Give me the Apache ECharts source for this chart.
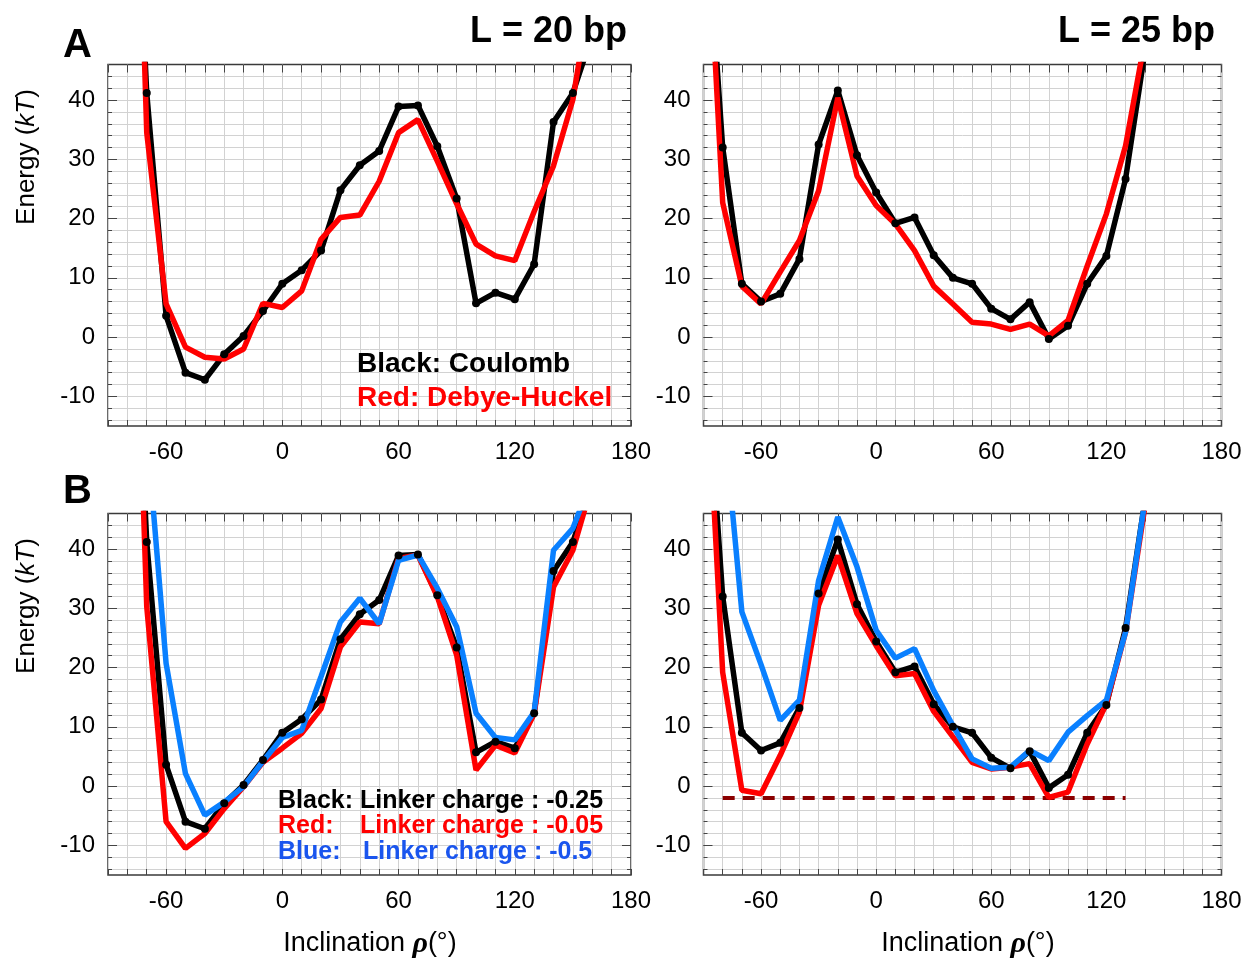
<!DOCTYPE html>
<html>
<head>
<meta charset="utf-8">
<script src="https://cdn.jsdelivr.net/npm/echarts@6/dist/echarts.min.js"></script>
<style>
  html, body { margin: 0; background: #fff; }
  #chart { width: 1246px; height: 960px; }
</style>
</head>
<body>
<div id="chart"></div>
<script>
// inclination angles (deg), left column L = 20 bp, right column L = 25 bp
var anglesL = [-80, -70, -60, -50, -40, -30, -20, -10, 0, 10, 20, 30, 40, 50, 60, 70, 80, 90, 100, 110, 120, 130, 140, 150, 160];
var anglesR = [-90, -80, -70, -60, -50, -40, -30, -20, -10, 0, 10, 20, 30, 40, 50, 60, 70, 80, 90, 100, 110, 120, 130, 140];

// L = 20 bp
var coulombL = [110, 41.2, 3.6, -6.0, -7.2, -2.9, 0.2, 4.4, 9.0, 11.3, 14.6, 24.8, 29.0, 31.4, 38.9, 39.1, 32.2, 23.4, 5.7, 7.5, 6.4, 12.3, 36.3, 41.2, 51];
var debyeL = [140, 34.5, 5.6, -1.7, -3.4, -3.7, -2.0, 5.7, 5.0, 7.8, 16.5, 20.2, 20.6, 26.3, 34.5, 36.7, 29.7, 22.5, 15.7, 13.7, 12.9, 21.2, 28.9, 40.1, 60];
var linker005L = [128, 30.3, -6.0, -10.5, -8.0, -3.8, -0.1, 4.0, 6.4, 8.9, 13.1, 23.5, 27.7, 27.4, 38.4, 39.0, 32.0, 22.1, 2.7, 6.9, 5.6, 12.2, 33.6, 39.8, 51];
var linker05L = [150, 60, 20.7, 2.1, -4.9, -2.7, -0.1, 4.2, 8.2, 9.4, 18.5, 27.7, 31.7, 27.4, 38.1, 39.0, 33.4, 26.9, 12.3, 8.2, 7.8, 12.5, 39.8, 43.5, 52];

// L = 25 bp
var coulombR = [79, 32, 9.0, 6.0, 7.3, 13.2, 32.5, 41.6, 30.7, 24.4, 19.2, 20.2, 13.8, 10.0, 9.0, 4.8, 3.0, 5.9, -0.3, 1.9, 9.0, 13.7, 26.7, 48];
var debyeR = [84, 22.7, 8.6, 5.6, 11.0, 16.3, 24.7, 40.4, 27.2, 22.2, 19.1, 14.6, 8.6, 5.6, 2.5, 2.2, 1.3, 2.2, 0.2, 2.8, 12.0, 20.8, 32.3, 50];
var linker005R = [81, 19.2, -0.7, -1.3, 5.2, 12.5, 30.5, 38.9, 29.1, 23.7, 18.6, 19.0, 12.6, 8.3, 4.0, 2.9, 3.2, 3.8, -1.9, -1.0, 7.1, 13.9, 26.0, 47];
var linker05R = [120, 64, 29.4, 20.5, 11.1, 14.5, 34.7, 45.4, 37.0, 26.3, 21.6, 23.2, 16.1, 10.2, 4.6, 3.0, 3.2, 6.0, 4.3, 9.1, 11.9, 14.5, 26.0, 48];

// reference level in panel B right
var refAngles = [-80, 130];
var refLevel = -2;

var xTickLabels = [-60, 0, 60, 120, 180];
var yTickLabels = [-10, 0, 10, 20, 30, 40];
var yMinorTicks = [];
for (var t = -14; t <= 44; t += 2) yMinorTicks.push(t);

function pairs(xs, ys) {
    var out = [];
    for (var i = 0; i < xs.length; i++) out.push([xs[i], ys[i]]);
    return out;
}

var myChart = echarts.init(document.getElementById('chart'));

var grids = [
    {left: 108, top: 64.5, width: 523, height: 361.5},
    {left: 703.5, top: 64.5, width: 518, height: 361.5},
    {left: 108, top: 513.5, width: 523, height: 361.5},
    {left: 703.5, top: 513.5, width: 518, height: 361.5}
];
var tickColor = '#444';
var gridColor = '#d2d2d2';
var labelFont = {fontSize: 24, color: '#000', fontFamily: 'Liberation Sans'};

var xAxes = [], yAxes = [];
for (var g = 0; g < 4; g++) {
    grids[g].show = true;
    grids[g].borderColor = '#3a3a3a';
    grids[g].borderWidth = 1.5;
    grids[g].z = 0;
    xAxes.push({
        gridIndex: g, type: 'value', position: 'bottom', min: -90, max: 180, interval: 10,
        axisLine: {show: false, onZero: false},
        axisTick: {inside: true, length: 6, lineStyle: {color: tickColor}},
        axisLabel: Object.assign({
            margin: 14, showMaxLabel: true, showMinLabel: true,
            formatter: function (v) { return xTickLabels.indexOf(v) >= 0 ? String(v) : ''; }
        }, labelFont),
        splitLine: {show: true, lineStyle: {color: gridColor, width: 1}}
    });
    xAxes.push({
        gridIndex: g, type: 'value', position: 'top', min: -90, max: 180, interval: 10,
        axisLine: {show: false, onZero: false},
        axisTick: {inside: true, length: 8, lineStyle: {color: tickColor}},
        axisLabel: {show: false},
        splitLine: {show: false}
    });
    ['left', 'right'].forEach(function (side) {
        yAxes.push({
            gridIndex: g, type: 'value', position: side, min: -15, max: 46,
            axisLine: {show: false, onZero: false},
            axisTick: {inside: true, length: 4, customValues: yMinorTicks, lineStyle: {color: tickColor}},
            axisLabel: side === 'left' ? Object.assign({margin: 13, customValues: yTickLabels}, labelFont) : {show: false},
            splitLine: {show: side === 'left', lineStyle: {color: gridColor, width: 1}}
        });
        yAxes.push({
            gridIndex: g, type: 'value', position: side, min: -15, max: 46,
            axisLine: {show: false, onZero: false},
            axisTick: {inside: true, length: 9, customValues: yTickLabels, lineStyle: {color: tickColor}},
            axisLabel: {show: false},
            splitLine: {show: false}
        });
    });
}

function curve(g, xs, ys, color, dots) {
    return {
        type: 'line', xAxisIndex: g * 2, yAxisIndex: g * 4,
        data: pairs(xs, ys),
        showSymbol: !!dots, symbol: 'circle', symbolSize: 8,
        itemStyle: {color: color},
        lineStyle: {color: color, width: 5.5},
        animation: false, clip: true, silent: true
    };
}

var series = [
    curve(0, anglesL, coulombL, '#000', true),
    curve(0, anglesL, debyeL, '#ff0000', false),
    curve(1, anglesR, coulombR, '#000', true),
    curve(1, anglesR, debyeR, '#ff0000', false),
    curve(2, anglesL, coulombL, '#000', true),
    curve(2, anglesL, linker005L, '#ff0000', false),
    curve(2, anglesL, linker05L, '#0a80ff', false),
    curve(3, anglesR, coulombR, '#000', true),
    curve(3, anglesR, linker005R, '#ff0000', false),
    curve(3, anglesR, linker05R, '#0a80ff', false),
    {
        type: 'line', xAxisIndex: 6, yAxisIndex: 12,
        data: pairs(refAngles, [refLevel, refLevel]),
        showSymbol: false,
        lineStyle: {color: '#8b0000', width: 4, type: [12, 8]},
        animation: false, silent: true, z: 1
    }
];

function txt(x, y, text, font, fill, align) {
    return {
        type: 'text', x: x, y: y, z: 100, silent: true,
        style: {text: text, font: font, fill: fill || '#000', align: align || 'left', verticalAlign: 'middle'}
    };
}

var yName = {
    a: {fontSize: 26, fontFamily: 'Liberation Sans', color: '#000'},
    b: {fontSize: 26, fontFamily: 'Liberation Sans', fontStyle: 'italic', color: '#000'}
};
var xName = {
    a: {fontSize: 27, fontFamily: 'Liberation Sans', color: '#000'},
    b: {fontSize: 30, fontFamily: 'Liberation Serif', fontStyle: 'italic', fontWeight: 'bold', color: '#000'}
};

function richTxt(x, y, text, rich, rot) {
    return {
        type: 'text', x: x, y: y, z: 100, rotation: rot || 0, silent: true,
        style: {text: text, rich: rich, align: 'center', verticalAlign: 'middle'}
    };
}

var bold28 = 'bold 28px Liberation Sans';
var bold25 = 'bold 25px Liberation Sans';

var graphics = [
    txt(63, 46, 'A', 'bold 40px Liberation Sans'),
    txt(63, 492, 'B', 'bold 40px Liberation Sans'),
    txt(627, 32, 'L = 20 bp', 'bold 36px Liberation Sans', '#000', 'right'),
    txt(1215, 32, 'L = 25 bp', 'bold 36px Liberation Sans', '#000', 'right'),
    txt(357, 364, 'Black: Coulomb', bold28, '#000'),
    txt(357, 398, 'Red: Debye-Huckel', bold28, '#ff0000'),
    txt(278, 801, 'Black: Linker charge : -0.25', bold25, '#000'),
    txt(278, 826, 'Red:', bold25, '#ff0000'),
    txt(360, 826, 'Linker charge : -0.05', bold25, '#ff0000'),
    txt(278, 852, 'Blue:', bold25, '#1a55ee'),
    txt(363, 852, 'Linker charge : -0.5', bold25, '#1a55ee'),
    richTxt(27, 157, '{a|Energy (}{b|kT}{a|)}', yName, Math.PI / 2),
    richTxt(27, 606, '{a|Energy (}{b|kT}{a|)}', yName, Math.PI / 2),
    richTxt(370, 944, '{a|Inclination }{b|ρ}{a|(°)}', xName),
    richTxt(968, 944, '{a|Inclination }{b|ρ}{a|(°)}', xName)
];

myChart.setOption({
    animation: false,
    grid: grids,
    xAxis: xAxes,
    yAxis: yAxes,
    series: series,
    graphic: graphics
});
</script>
</body>
</html>
